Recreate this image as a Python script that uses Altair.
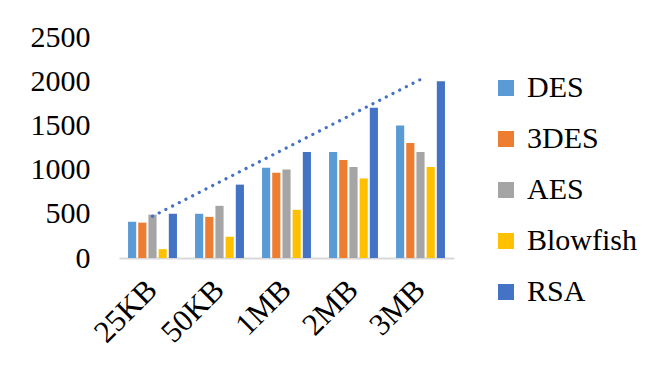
import altair as alt
import pandas as pd

sizes = ["25KB", "50KB", "1MB", "2MB", "3MB"]
algos = ["DES", "3DES", "AES", "Blowfish", "RSA"]
des = [410, 500, 1020, 1200, 1500]
tdes = [400, 465, 965, 1110, 1300]
aes = [490, 590, 1000, 1030, 1200]
blowfish = [100, 240, 545, 900, 1030]
rsa = [500, 830, 1200, 1700, 2000]
colors = ["#5B9BD5", "#ED7D31", "#A5A5A5", "#FFC000", "#4472C4"]
y_ticks = [0, 500, 1000, 1500, 2000, 2500]

series = {"DES": des, "3DES": tdes, "AES": aes, "Blowfish": blowfish, "RSA": rsa}
rows = []
for a in algos:
    for i, s in enumerate(sizes):
        rows.append({"size": s, "idx": i, "algo": a, "value": series[a][i]})
df = pd.DataFrame(rows)

FONT = "'Liberation Serif', 'Times New Roman', serif"

x_enc = alt.X(
    "size:N",
    sort=sizes,
    scale=alt.Scale(paddingInner=0.27, paddingOuter=0.135),
    axis=alt.Axis(
        title=None,
        labelAngle=-45,
        labelAlign="right",
        labelBaseline="middle",
        labelFontSize=31,
        labelFont=FONT,
        labelColor="black",
        labelPadding=27,
        ticks=False,
        domainColor="#D9D9D9",
        domainWidth=2,
    ),
)
y_enc = alt.Y(
    "value:Q",
    scale=alt.Scale(domain=[0, 2500], nice=False),
    axis=alt.Axis(
        title=None,
        values=y_ticks,
        format="d",
        labelFontSize=30,
        labelFont=FONT,
        labelColor="black",
        labelPadding=29,
        ticks=False,
        domain=False,
        grid=False,
    ),
)

bars = alt.Chart(df).mark_bar().encode(
    x=x_enc,
    xOffset=alt.XOffset("algo:N", sort=algos, scale=alt.Scale(paddingInner=0.2)),
    y=y_enc,
    color=alt.Color(
        "algo:N",
        sort=algos,
        scale=alt.Scale(domain=algos, range=colors),
        legend=alt.Legend(
            title=None,
            orient="none",
            legendX=372,
            legendY=36,
            symbolType="square",
            symbolSize=256,
            symbolStrokeWidth=0,
            labelFontSize=30,
            labelFont=FONT,
            labelColor="black",
            labelOffset=6,
            rowPadding=21,
        ),
    ),
)

trend = (
    alt.Chart(df)
    .transform_filter(alt.datum.algo == "RSA")
    .transform_regression("idx", "value", method="linear")
    .transform_calculate(
        size="['25KB','50KB','1MB','2MB','3MB'][round(datum.idx)]"
    )
    .mark_line(color="#4472C4", strokeWidth=3.2, strokeDash=[0.1, 7.4], strokeCap="round")
    .encode(x=alt.X("size:N", sort=sizes), y=alt.Y("value:Q"))
)

chart = (
    alt.layer(bars, trend)
    .properties(
        width=335,
        height=221,
        autosize=alt.AutoSizeParams(type="none"),
        padding={"left": 119, "top": 37, "right": 202, "bottom": 112},
        background="white",
    )
    .configure(font=FONT)
    .configure_view(stroke=None)
    .configure_legend(labelFont=FONT, labelFontSize=30)
    .configure_axis(labelFont=FONT)
)

chart.save("out.html", embed_options={"renderer": "svg", "actions": False})
